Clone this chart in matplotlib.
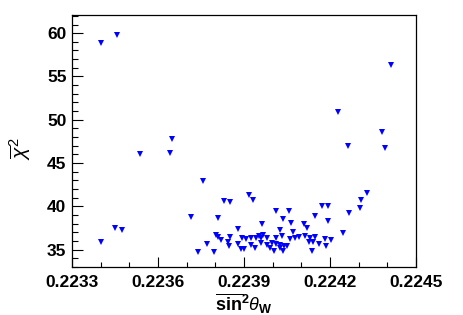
import numpy as np
import matplotlib
matplotlib.use('Agg')
import matplotlib.pyplot as plt
from matplotlib.ticker import MultipleLocator, FixedLocator

plt.rcParams['font.family'] = ['Liberation Sans', 'DejaVu Sans']
plt.rcParams['mathtext.fontset'] = 'custom'
plt.rcParams['mathtext.rm'] = 'Liberation Sans'
plt.rcParams['mathtext.bf'] = 'Liberation Sans:bold'
plt.rcParams['mathtext.it'] = 'Liberation Sans:italic'

# sin^2 theta_W values and chi^2 values
sin2w = [0.22340, 0.223456, 0.223536, 0.223648, 0.223641, 0.223449, 0.223473, 0.22340,
         0.224414, 0.224227, 0.224380, 0.224262, 0.224392, 0.224329, 0.224307, 0.224303,
         0.224265, 0.224244, 0.224202, 0.223757, 0.223715, 0.223808, 0.223831, 0.223851,
         0.223916, 0.223932, 0.223771, 0.223740, 0.223795, 0.223802, 0.223811, 0.223820,
         0.223852, 0.223845, 0.223847, 0.223880, 0.223892, 0.223907, 0.223880, 0.223891,
         0.223900, 0.223926, 0.223924, 0.223938, 0.223941, 0.223951, 0.223958, 0.223958,
         0.223965, 0.223962, 0.223980, 0.223980, 0.223991, 0.223997, 0.224013, 0.224003,
         0.224010, 0.224027, 0.224024, 0.224038, 0.224049, 0.224035, 0.224032, 0.224059,
         0.224078, 0.224093, 0.224114, 0.224131, 0.224147, 0.224181, 0.224127, 0.224142,
         0.224160, 0.224186, 0.224138, 0.224012, 0.224058, 0.224172, 0.224193, 0.224149,
         0.224035, 0.224065, 0.224192, 0.224111, 0.224120, 0.224027, 0.224072]
chi2 = [58.85, 59.78, 46.05, 47.74, 46.20, 37.50, 37.22, 35.89,
        56.32, 50.85, 48.54, 47.00, 46.74, 41.59, 40.79, 39.87,
        39.22, 36.90, 36.07, 42.94, 38.72, 38.68, 40.64, 40.47,
        41.27, 40.72, 35.63, 34.74, 34.74, 36.75, 36.50, 36.12,
        36.47, 35.84, 35.38, 37.36, 36.38, 36.23, 35.66, 35.08,
        35.08, 36.35, 35.54, 35.20, 36.35, 36.53, 36.32, 35.81,
        36.73, 37.93, 36.30, 35.58, 35.20, 35.77, 35.66, 34.88,
        36.35, 35.58, 35.20, 35.38, 35.46, 34.88, 36.58, 36.19,
        36.35, 36.46, 36.58, 36.30, 36.46, 36.23, 35.84, 35.92,
        35.66, 35.43, 34.88, 39.41, 39.49, 40.10, 40.10, 38.88,
        38.53, 38.07, 38.30, 37.91, 37.50, 37.30, 37.04]

x_ticks = [0.2233, 0.2236, 0.2239, 0.2242, 0.2245]
x_ticklabels = ['0.2233', '0.2236', '0.2239', '0.2242', '0.2245']

fig = plt.figure(figsize=(4.63, 3.15), dpi=100)
ax = fig.add_axes([0.1555, 0.1524, 0.743, 0.80])

ax.plot(sin2w, chi2, 'v', color='#0000ff', markersize=4.8, markeredgewidth=0)

ax.set_xlim(0.2233, 0.2245)
ax.set_ylim(33.0, 62.1)
ax.xaxis.set_major_locator(FixedLocator(x_ticks))
ax.xaxis.set_minor_locator(FixedLocator(np.linspace(0.2233, 0.2245, 13)))
ax.set_xticklabels(x_ticklabels)
ax.yaxis.set_major_locator(MultipleLocator(5))
ax.yaxis.set_minor_locator(MultipleLocator(1))

ax.tick_params(axis='both', which='both', direction='in', top=False, right=False,
               labelsize=12.5, width=0.8)
ax.tick_params(axis='x', which='major', length=7, pad=6)
ax.tick_params(axis='x', which='minor', length=3.5)
ax.tick_params(axis='y', which='major', length=8, pad=4)
ax.tick_params(axis='y', which='minor', length=4)
for lab in ax.get_xticklabels() + ax.get_yticklabels():
    lab.set_fontweight('bold')
for s in ax.spines.values():
    s.set_linewidth(0.9)

ax.set_xlabel(r'$\overline{\mathbf{sin}}^{\mathbf{2}}\theta_{\mathbf{W}}$', fontsize=13, labelpad=1)
ax.set_ylabel(r'$\overline{\chi}^{2}$', fontsize=15, labelpad=2)
ax.yaxis.set_label_coords(-0.11, 0.47)

fig.savefig('out.png', dpi=100)
